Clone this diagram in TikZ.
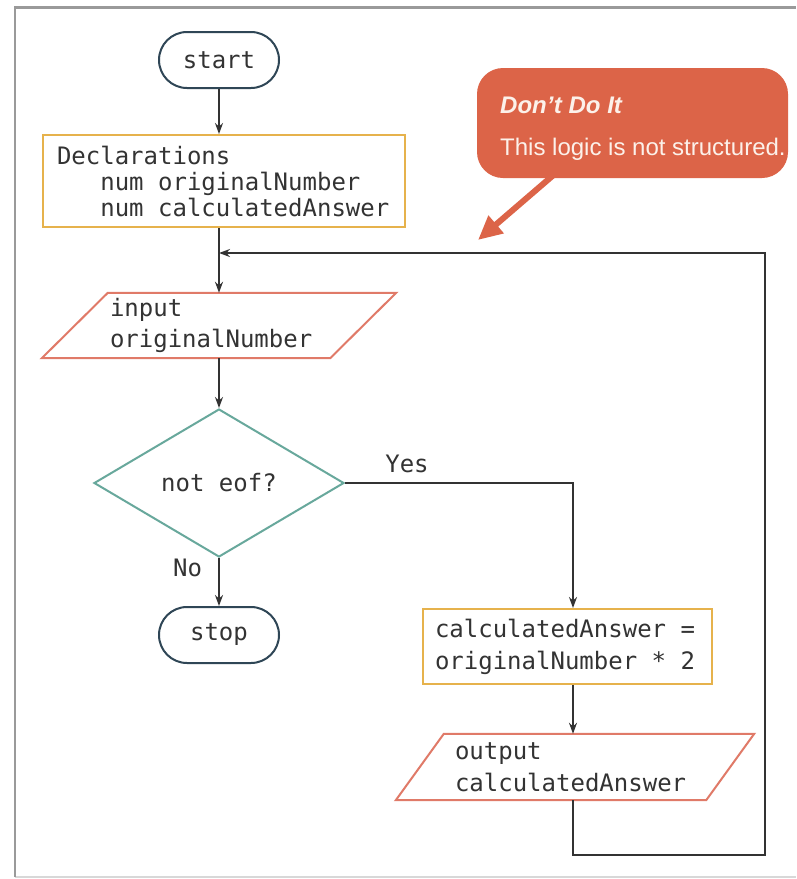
\documentclass[tikz,border=0pt]{standalone}
\usepackage{fontspec}
\usetikzlibrary{shapes.geometric,arrows.meta,calc}
\newfontfamily\codefont{DejaVu Sans Mono}
\newfontfamily\notefont{Liberation Sans}
% one full monospace cell, used as a fixed-width space
\newcommand\msp{\hphantom{x}}
\definecolor{ink}{HTML}{333333}
\definecolor{termc}{HTML}{2F4656}
\definecolor{procc}{HTML}{E6B24C}
\definecolor{ioc}{HTML}{E07A68}
\definecolor{decc}{HTML}{68A89C}
\definecolor{notec}{HTML}{DC6448}
\definecolor{notetextc}{HTML}{FCF1EA}
\definecolor{framec}{HTML}{9A9A9A}
\definecolor{framelight}{HTML}{D8D8D8}

\tikzset{
  code/.style={font=\codefont\fontsize{24}{#1}\selectfont, text=ink},
  code/.default=26,
  term/.style={draw=termc, line width=2pt, rounded corners=28pt,
    minimum width=120pt, minimum height=56pt, inner sep=0pt, code},
  proc/.style={draw=procc, line width=2pt, align=left, inner ysep=0pt},
  iobox/.style={draw=none, align=left, inner ysep=0pt, inner xsep=35pt},
  ioline/.style={draw=ioc, line width=2pt, line join=miter},
  decision/.style={draw=decc, line width=2pt, shape=diamond, inner sep=0pt,
    minimum width=250pt, minimum height=148pt, code},
  flow/.style={draw=ink, line width=2pt, -{Stealth[length=11pt,width=8pt]}},
  lbl/.style={code=26, inner sep=0pt},
  notebox/.style={fill=notec, rounded corners=26pt, minimum width=311pt,
    minimum height=110pt, inner sep=0pt},
  notetext/.style={font=\notefont\fontsize{24}{28}\selectfont,
    text=notetextc, inner sep=0pt, anchor=base west},
  notearrow/.style={draw=notec, line width=6pt,
    -{Triangle[length=24pt,width=22pt]}},
}

\begin{document}
\begin{tikzpicture}[x=1pt,y=-1pt]
  \useasboundingbox (0,0) rectangle (796,879);
  \fill[white] (0,0) rectangle (796,879);

  % page frame
  \draw[framelight, line width=2pt] (15,877) -- (796,877);
  \draw[framec, line width=2.5pt] (15,877) -- (15,7.5) -- (796,7.5);

  % flowchart symbols
  \node[term] (start) at (219,60) {start};

  \node[proc, code=26, minimum width=362pt, minimum height=92pt,
        text width=334pt, inner xsep=14pt] (decl) at (224,181)
    {Declarations\\
     \msp\msp\msp num\msp originalNumber\\
     \msp\msp\msp num\msp calculatedAnswer};

  \node[iobox, code=31, minimum width=288pt, minimum height=65pt,
        text width=218pt] (in) at (219,325.5)
    {input\\originalNumber};
  \draw[ioline] ($(in.north west)+(33,0)$) -- ($(in.north east)+(33,0)$)
    -- ($(in.south east)-(33,0)$) -- ($(in.south west)-(33,0)$) -- cycle;

  \node[decision] (dec) at (219,483) {not\msp eof?};

  \node[term] (stop) at (219,635) {stop};

  \node[proc, code=32, minimum width=289pt, minimum height=75pt,
        text width=265pt, inner xsep=12pt] (calc) at (567.5,646.5)
    {calculatedAnswer\msp=\\originalNumber\msp*\msp2};

  \node[iobox, code=32, minimum width=310pt, minimum height=66pt,
        text width=240pt] (out) at (575,767)
    {output\\calculatedAnswer};
  \draw[ioline] ($(out.north west)+(24,0)$) -- ($(out.north east)+(24,0)$)
    -- ($(out.south east)-(24,0)$) -- ($(out.south west)-(24,0)$) -- cycle;

  % routing helpers
  \coordinate (col) at (573,0);
  \coordinate (join) at (219,253);
  \coordinate (loopcorner) at (765,855);

  % connectors
  \draw[flow] (start.south) -- (start.south |- decl.north);
  \draw[flow] (decl.south -| in.north) -- (in.north);
  \draw[flow] (in.south) -- (dec.north);
  \draw[flow] (dec.east) -| (col |- calc.north)
    node[lbl, pos=0.136, anchor=south, yshift=9pt] {Yes};
  \draw[flow] (dec.south) -- (stop.north)
    node[lbl, pos=0.39, anchor=base east, xshift=-16pt] {No};
  \draw[flow] (col |- calc.south) -- (col |- out.north);
  \draw[flow] (col |- out.south) |- (loopcorner) |- (join);

  % warning callout
  \node[notebox] (note) at (632.5,123) {};
  \coordinate (notefoot) at (557,172);
  \coordinate (notetip) at (478,240);
  \draw[notearrow] (notefoot) -- (notetip);
  \node[notetext] (notehead) at (500,113) {\textbf{\textit{Don’t Do It}}};
  \node[notetext] (notebody) at (500,155) {This logic is not structured.};
\end{tikzpicture}
\end{document}
